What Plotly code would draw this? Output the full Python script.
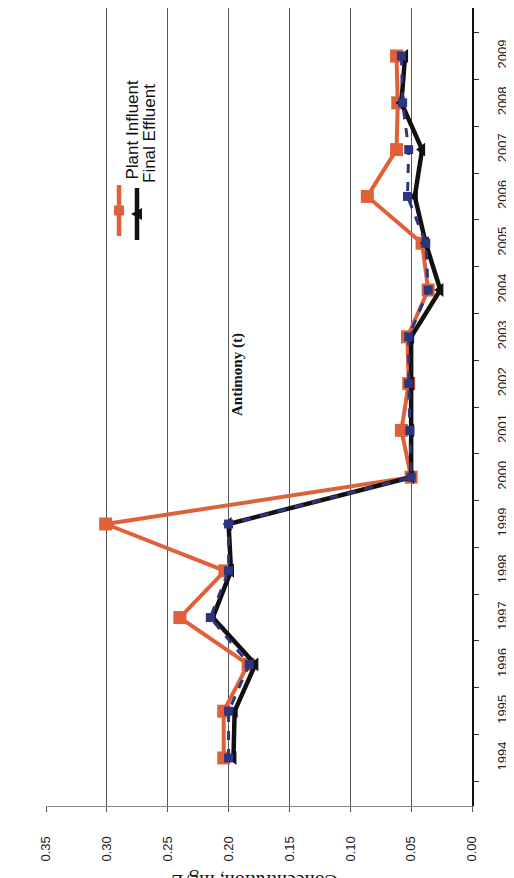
import plotly.graph_objects as go

years = [str(y) for y in range(1994, 2010)]
plant_influent = [0.204, 0.204, 0.184, 0.240, 0.203, 0.301, 0.050, 0.058, 0.052, 0.053,
                  0.036, 0.041, 0.086, 0.062, 0.061, 0.062]
final_effluent = [0.196, 0.195, 0.178, 0.213, 0.198, 0.200, 0.050, 0.050, 0.050, 0.050,
                  0.026, 0.038, 0.047, 0.041, 0.058, 0.055]
series3 = [0.200, 0.200, 0.183, 0.215, 0.200, 0.200, 0.050, 0.051, 0.052, 0.052,
           0.036, 0.038, 0.053, 0.052, 0.057, 0.058]
value_ticks = [0.00, 0.05, 0.10, 0.15, 0.20, 0.25, 0.30, 0.35]
value_tick_labels = ["%.2f" % v for v in value_ticks]

ORANGE = "#e0603a"
BLACK = "#111111"
NAVY = "#2c3680"

# page body has an 8px margin; figure is sized to fill the rest of the window
OFF = 8
W, H = 514 - OFF, 878 - OFF
PL, PR, PT, PB = 46, 472, 6, 806  # plot area in window pixels

fig = go.Figure()
fig.add_trace(go.Scatter(x=plant_influent, y=years, mode="lines+markers", name="Plant Influent",
                         line=dict(color=ORANGE, width=4),
                         marker=dict(symbol="square", size=13, color=ORANGE),
                         showlegend=False))
fig.add_trace(go.Scatter(x=final_effluent, y=years, mode="lines+markers", name="Final Effluent",
                         line=dict(color=BLACK, width=4.5),
                         marker=dict(symbol="triangle-left", size=12, color=BLACK),
                         showlegend=False))
fig.add_trace(go.Scatter(x=series3, y=years, mode="lines+markers", name="series3",
                         line=dict(color=NAVY, width=3, dash="dash"),
                         marker=dict(symbol="square", size=9, color=NAVY),
                         showlegend=False))

tickfont = dict(family="Liberation Sans, Arial, sans-serif", size=13, color="#222")

fig.update_layout(
    width=W, height=H,
    margin=dict(l=PL - OFF, r=W - (PR - OFF), t=PT - OFF if PT > OFF else 0, b=H - (PB - OFF)),
    paper_bgcolor="white", plot_bgcolor="white",
    xaxis=dict(range=[0.35, 0], tickvals=value_ticks, ticktext=value_tick_labels,
               tickangle=-90, tickfont=tickfont, ticks="outside", ticklen=5,
               tickcolor="#555", showgrid=True, gridcolor="#555", gridwidth=1,
               showline=True, linecolor="#888", linewidth=1, mirror=True,
               zeroline=False, ticklabelstandoff=19),
    yaxis=dict(type="category", categoryorder="array", categoryarray=years,
               side="right", tickangle=-90, tickfont=tickfont, ticks="outside",
               ticklen=5, tickcolor="#333", tickson="boundaries",
               showgrid=False, showline=True, linecolor="#111", linewidth=1.5,
               zeroline=False, ticklabelstandoff=18),
)

top_px = max(PT, OFF)

def px(xp):
    return (xp - PL) / (PR - PL)

def py(yp):
    return (PB - yp) / (PB - top_px)

# Rotated title and axis title
fig.add_annotation(text="<b>Antimony (t)</b>", xref="paper", yref="paper",
                   x=px(237), y=py(375), showarrow=False, textangle=-90,
                   font=dict(family="Liberation Serif, Times New Roman, serif", size=15, color="#111"))
fig.add_annotation(text="Concentration, mg/L", xref="paper", yref="paper",
                   x=px(255), y=py(895), showarrow=False, textangle=180,
                   font=dict(family="Liberation Serif, Times New Roman, serif", size=20, color="#111"))

# Rotated legend drawn manually
legend_items = [("Plant Influent", ORANGE, 119, 185, 236, "square"),
                ("Final Effluent", BLACK, 137, 188, 240, "triangle")]
legfont = dict(family="Liberation Sans, Arial, sans-serif", size=17, color="#111")
for name, color, xc, y0, y1, sym in legend_items:
    fig.add_shape(type="line", xref="paper", yref="paper", x0=px(xc), x1=px(xc),
                  y0=py(y0), y1=py(y1), line=dict(color=color, width=4.5))
    ym = (y0 + y1) / 2
    if sym == "square":
        fig.add_shape(type="rect", xref="paper", yref="paper", x0=px(xc - 5), x1=px(xc + 5),
                      y0=py(ym - 5), y1=py(ym + 5), fillcolor=color, line=dict(width=0))
    else:
        fig.add_shape(type="path", xref="paper", yref="paper",
                      path="M %f,%f L %f,%f L %f,%f Z" % (px(xc - 6), py(ym), px(xc + 5), py(ym - 6),
                                                        px(xc + 5), py(ym + 6)),
                      fillcolor=color, line=dict(width=0))
    fig.add_annotation(text=name, xref="paper", yref="paper", x=px(xc + 1), y=py(y0 - 3),
                       yanchor="bottom", showarrow=False, textangle=-90, font=legfont)

fig.write_html("out.html")
